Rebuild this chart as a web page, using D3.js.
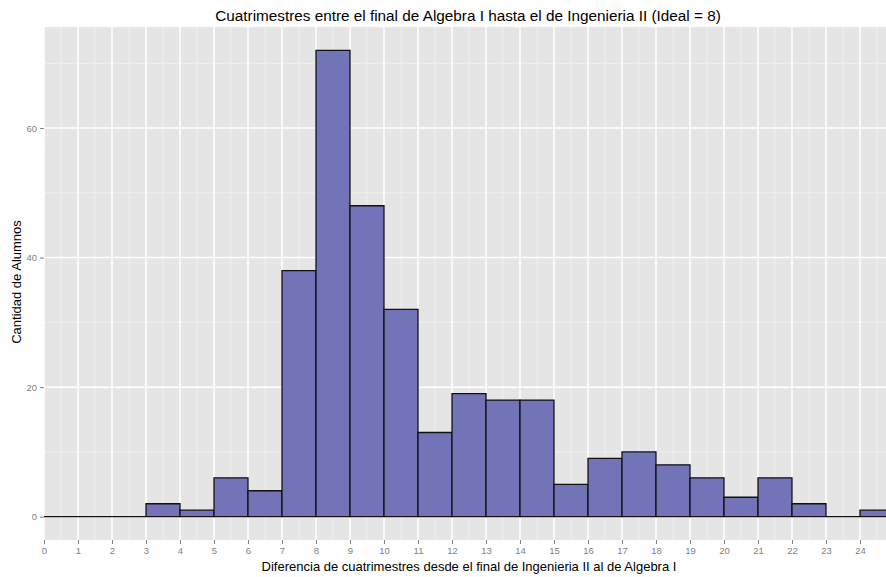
<!DOCTYPE html>
<html>
<head>
<meta charset="utf-8">
<script src="https://cdn.jsdelivr.net/npm/d3@7"></script>
<style>
  body { margin: 0; background: #fff; }
  text { font-family: "Liberation Sans", Arial, sans-serif; }
</style>
</head>
<body>
<svg id="chart" width="886" height="577"></svg>
<script>
// histogram bins (left edge, width 1) and counts
var binStarts = [0, 1, 2, 3, 4, 5, 6, 7, 8, 9, 10, 11, 12, 13, 14, 15, 16, 17, 18, 19, 20, 21, 22, 23, 24];
var counts    = [0, 0, 0, 2, 1, 6, 4, 38, 72, 48, 32, 13, 19, 18, 18, 5, 9, 10, 8, 6, 3, 6, 2, 0, 1];
var xTicks = [0, 1, 2, 3, 4, 5, 6, 7, 8, 9, 10, 11, 12, 13, 14, 15, 16, 17, 18, 19, 20, 21, 22, 23, 24];
var yTicks = [0, 20, 40, 60];

var title = "Cuatrimestres entre el final de Algebra I hasta el de Ingenieria II (Ideal = 8)";
var xTitle = "Diferencia de cuatrimestres desde el final de Ingenieria II al de Algebra I";
var yTitle = "Cantidad de Alumnos";

var svg = d3.select("#chart");
var panel_left = 44, panel_right = 886, panel_top = 27, panel_bottom = 540;

var x = d3.scaleLinear().domain([0, 24.765]).range([panel_left, panel_right]);
var y = d3.scaleLinear().domain([-3.6, 75.6]).range([panel_bottom, panel_top]);

// panel background
svg.append("rect")
    .attr("x", panel_left).attr("y", panel_top)
    .attr("width", panel_right - panel_left).attr("height", panel_bottom - panel_top)
    .attr("fill", "#E5E5E5");

// minor grid
var minorX = xTicks.map(function(d) { return d + 0.5; });
var minorY = [10, 30, 50, 70];
svg.selectAll(".minorX").data(minorX).enter().append("line")
    .attr("x1", function(d) { return x(d); }).attr("x2", function(d) { return x(d); })
    .attr("y1", panel_top).attr("y2", panel_bottom)
    .attr("stroke", "#F2F2F2").attr("stroke-width", 0.8);
svg.selectAll(".minorY").data(minorY).enter().append("line")
    .attr("y1", function(d) { return y(d); }).attr("y2", function(d) { return y(d); })
    .attr("x1", panel_left).attr("x2", panel_right)
    .attr("stroke", "#F2F2F2").attr("stroke-width", 0.8);

// major grid
svg.selectAll(".majorX").data(xTicks).enter().append("line")
    .attr("x1", function(d) { return x(d); }).attr("x2", function(d) { return x(d); })
    .attr("y1", panel_top).attr("y2", panel_bottom)
    .attr("stroke", "#FFFFFF").attr("stroke-width", 1.5);
svg.selectAll(".majorY").data(yTicks).enter().append("line")
    .attr("y1", function(d) { return y(d); }).attr("y2", function(d) { return y(d); })
    .attr("x1", panel_left).attr("x2", panel_right)
    .attr("stroke", "#FFFFFF").attr("stroke-width", 1.5);

// bars (drawn as closed paths so empty bins still show a flat outline)
svg.append("g").selectAll("path")
    .data(binStarts)
    .enter().append("path")
    .attr("d", function(d, i) {
        var x0 = x(d), x1 = x(d + 1), y0 = y(0), y1 = y(counts[i]);
        return "M" + x0 + "," + y0 + "V" + y1 + "H" + x1 + "V" + y0 + "Z";
    })
    .attr("fill", "#7373B8")
    .attr("stroke", "#111")
    .attr("stroke-width", 1.3);

// axes
var xAxis = d3.axisBottom(x).tickValues(xTicks).tickSize(4).tickPadding(3).tickFormat(d3.format("d"));
var gx = svg.append("g").attr("transform", "translate(0," + panel_bottom + ")").call(xAxis);
var yAxis = d3.axisLeft(y).tickValues(yTicks).tickSize(4).tickPadding(3);
var gy = svg.append("g").attr("transform", "translate(" + panel_left + ",0)").call(yAxis);

[gx, gy].forEach(function(g) {
    g.select(".domain").remove();
    g.selectAll(".tick line").attr("stroke", "#7F7F7F");
    g.selectAll(".tick text").attr("fill", "#7F7F7F").style("font-size", "9.5px");
});

// titles
svg.append("text")
    .attr("x", 468).attr("y", 21)
    .attr("text-anchor", "middle")
    .style("font-size", "15.3px")
    .text(title);

svg.append("text")
    .attr("x", 469).attr("y", 571)
    .attr("text-anchor", "middle")
    .style("font-size", "13px")
    .text(xTitle);

svg.append("text")
    .attr("transform", "translate(21," + 282 + ") rotate(-90)")
    .attr("text-anchor", "middle")
    .style("font-size", "13px")
    .text(yTitle);
</script>
</body>
</html>
